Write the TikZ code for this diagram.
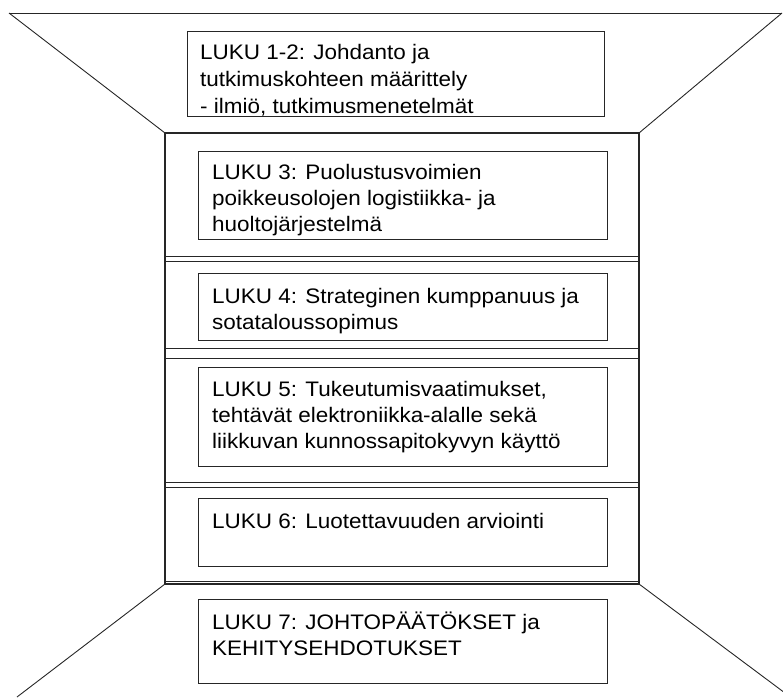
\documentclass[tikz,border=0pt]{standalone}
\usepackage{fontspec}
\setmainfont{Liberation Sans}[FakeStretch=1.07]
\begin{document}
\begin{tikzpicture}[x=1pt,y=-1pt,
  wall/.style={draw=black!85,line width=1.1pt},
  edge/.style={draw=black!85,line width=0.9pt},
  chapbox/.style={draw=black!85,line width=0.9pt,anchor=north west,inner sep=0pt,outer sep=0pt},
  % base anchor of a multi-line node sits on its last line
  chaptext/.style={anchor=base west,inner sep=0pt,align=left,text=black,
    font=\fontsize{21}{26}\selectfont}]
\useasboundingbox (0,0) rectangle (783,697);

% back wall corners
\coordinate (wTL) at (165,133);
\coordinate (wTR) at (639,133);
\coordinate (wBL) at (165,584);
\coordinate (wBR) at (639,584);
% far ends of the perspective edges
\coordinate (fTL) at (9,13);
\coordinate (fTR) at (782,13);
\coordinate (fBL) at (17,697);
\coordinate (fBR) at (783,691.5);

% perspective frame
\draw[edge] (fTL) -- (fTR);
\draw[edge] (fTL) -- (wTL);
\draw[edge] (fTR) -- (wTR);
\draw[edge] (wBL) -- (fBL);
\draw[edge] (wBR) -- (fBR);

% back wall and its double-ruled bands
\draw[wall] (wTL) rectangle (wBR);
\foreach \yy in {256,261,348,358,482,487,581}
  \draw[edge] (165,\yy) -- (639,\yy);

% chapter boxes
\node[chapbox,minimum width=417pt,minimum height=85pt] (b1) at (187,31) {};
\node[chapbox,minimum width=409pt,minimum height=88pt] (b3) at (198,151) {};
\node[chapbox,minimum width=409pt,minimum height=67pt] (b4) at (198,273) {};
\node[chapbox,minimum width=409pt,minimum height=99pt] (b5) at (198,367) {};
\node[chapbox,minimum width=409pt,minimum height=68pt] (b6) at (198,498) {};
\node[chapbox,minimum width=409pt,minimum height=84pt] (b7) at (198,599) {};

% chapter texts
\node[chaptext,font=\fontsize{21}{27}\selectfont] (t1) at (200,113) {LUKU 1-2: Johdanto ja\\tutkimuskohteen määrittely\\- ilmiö, tutkimusmenetelmät};
\node[chaptext] (t3) at (212,231) {LUKU 3: Puolustusvoimien\\poikkeusolojen logistiikka- ja\\huoltojärjestelmä};
\node[chaptext] (t4) at (212,329) {LUKU 4: Strateginen kumppanuus ja\\sotataloussopimus};
\node[chaptext] (t5) at (212,448.5) {LUKU 5: Tukeutumisvaatimukset,\\tehtävät elektroniikka-alalle sekä\\liikkuvan kunnossapitokyvyn käyttö};
\node[chaptext] (t6) at (212,528) {LUKU 6: Luotettavuuden arviointi};
\node[chaptext] (t7) at (212,655) {LUKU 7: JOHTOPÄÄTÖKSET ja\\KEHITYSEHDOTUKSET};
\end{tikzpicture}
\end{document}
